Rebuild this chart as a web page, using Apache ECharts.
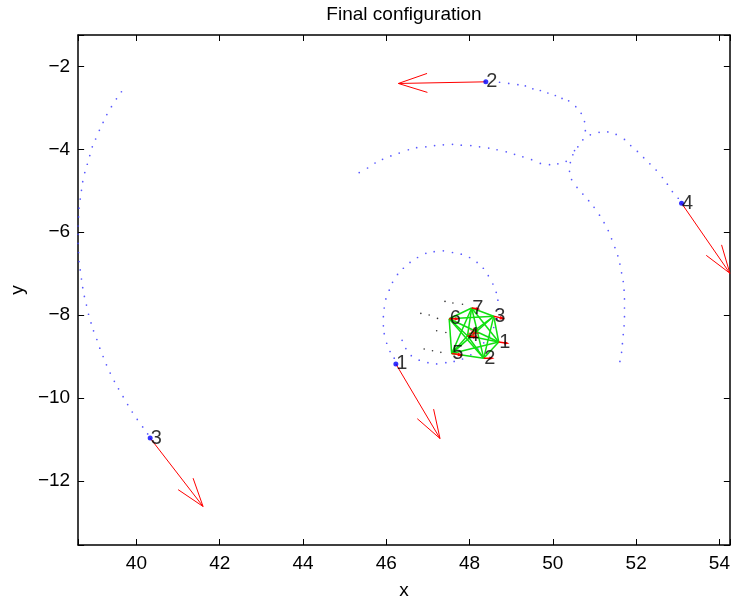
<!DOCTYPE html>
<html>
<head>
<meta charset="utf-8">
<title>Final configuration</title>
<script src="https://cdn.jsdelivr.net/npm/echarts@6/dist/echarts.min.js"></script>
<style>
  html, body { margin: 0; padding: 0; background: #ffffff; }
  #chart { width: 733px; height: 605px; }
</style>
</head>
<body>
<div id="chart"></div>
<script>
// ---- axis extents and ticks ----
const xRange = [38.6, 54.25];
const yRange = [-13.55, -1.24];
const xTickValues = [40, 42, 44, 46, 48, 50, 52, 54];
const yTickValues = [-12, -10, -8, -6, -4, -2];

// ---- trajectories of the four escaping particles (x, y samples) ----
const trail1 = [
  [46.38, -8.61], [46.47, -8.81], [46.60, -8.98], [46.79, -9.09], [47.00, -9.15],
  [47.21, -9.18], [47.43, -9.15], [47.63, -9.12], [47.83, -9.06], [48.03, -8.96],
  [48.20, -8.82], [48.34, -8.67], [48.48, -8.51], [48.58, -8.30], [48.66, -8.09],
  [48.69, -7.86], [48.68, -7.64], [48.64, -7.45], [48.56, -7.25], [48.45, -7.05],
  [48.33, -6.87], [48.18, -6.73], [48.00, -6.61], [47.80, -6.53], [47.59, -6.49],
  [47.37, -6.45], [47.15, -6.47], [46.95, -6.51], [46.75, -6.61], [46.57, -6.73],
  [46.41, -6.87], [46.27, -7.02], [46.15, -7.21], [46.07, -7.40], [45.99, -7.61],
  [45.95, -7.83], [45.93, -8.04], [45.93, -8.26], [45.95, -8.45], [46.01, -8.68],
  [46.09, -8.88], [46.19, -9.04]
];
const trail2 = [
  [45.35, -4.56], [45.55, -4.45], [45.73, -4.33], [45.91, -4.24], [46.11, -4.16],
  [46.31, -4.09], [46.53, -4.01], [46.73, -3.96], [46.95, -3.94], [47.16, -3.91],
  [47.37, -3.89], [47.59, -3.88], [47.80, -3.90], [48.03, -3.91], [48.24, -3.94],
  [48.46, -3.97], [48.66, -4.01], [48.88, -4.06], [49.08, -4.12], [49.28, -4.18],
  [49.49, -4.25], [49.70, -4.34], [49.92, -4.37], [50.12, -4.35], [50.32, -4.29],
  [50.48, -4.13], [50.60, -3.94], [50.72, -3.77], [50.78, -3.55], [50.76, -3.33],
  [50.68, -3.13], [50.55, -2.97], [50.38, -2.83], [50.22, -2.77], [50.06, -2.70],
  [49.88, -2.64], [49.70, -2.58], [49.52, -2.54], [49.34, -2.47], [49.16, -2.44],
  [48.94, -2.41], [48.72, -2.38]
];
const trail3 = [
  [39.64, -2.61], [39.52, -2.78], [39.40, -2.97], [39.29, -3.16], [39.20, -3.35],
  [39.11, -3.54], [39.02, -3.75], [38.94, -3.94], [38.88, -4.15], [38.82, -4.36],
  [38.76, -4.56], [38.71, -4.78], [38.68, -4.99], [38.65, -5.20], [38.62, -5.42],
  [38.61, -5.63], [38.60, -5.85], [38.60, -6.05], [38.60, -6.27], [38.61, -6.49],
  [38.62, -6.71], [38.65, -6.91], [38.68, -7.13], [38.71, -7.34], [38.75, -7.55],
  [38.80, -7.76], [38.85, -7.98], [38.91, -8.19], [38.97, -8.38], [39.05, -8.59],
  [39.12, -8.80], [39.20, -9.00], [39.28, -9.20], [39.37, -9.40], [39.47, -9.60],
  [39.57, -9.78], [39.68, -9.97], [39.79, -10.16], [39.90, -10.34], [40.02, -10.52],
  [40.15, -10.70], [40.27, -10.87]
];
const trail4 = [
  [51.61, -9.12], [51.65, -8.90], [51.67, -8.69], [51.69, -8.47], [51.71, -8.26],
  [51.72, -8.04], [51.72, -7.83], [51.72, -7.61], [51.71, -7.40], [51.69, -7.19],
  [51.65, -6.98], [51.61, -6.77], [51.56, -6.57], [51.49, -6.37], [51.41, -6.16],
  [51.33, -5.96], [51.23, -5.77], [51.12, -5.59], [50.99, -5.40], [50.86, -5.24],
  [50.72, -5.08], [50.58, -4.92], [50.45, -4.73], [50.40, -4.53], [50.42, -4.32],
  [50.52, -4.03], [50.90, -3.65], [51.11, -3.59], [51.32, -3.58], [51.52, -3.64],
  [51.72, -3.76], [51.87, -3.91], [52.03, -4.05], [52.18, -4.20], [52.33, -4.35],
  [52.48, -4.50], [52.63, -4.68], [52.75, -4.84], [52.87, -5.02], [53.01, -5.18]
];

// ---- escaping particles: position, velocity arrow tip, label ----
const outerLabels = ['1', '2', '3', '4'];
const outerX = [46.23, 48.39, 40.33, 53.09];
const outerY = [-9.18, -2.37, -10.97, -5.30];
const outerTipX = [47.29, 46.29, 41.60, 54.25];
const outerTipY = [-10.98, -2.41, -12.62, -6.99];

// ---- bound cluster: positions, velocities, labels ----
const clusterLabels = ['1', '2', '3', '4', '5', '6', '7'];
const clusterX = [48.70, 48.34, 48.58, 47.95, 47.57, 47.51, 48.05];
const clusterY = [-8.65, -9.04, -8.03, -8.50, -8.93, -8.09, -7.83];
const clusterU = [0.20, 0.20, 0.22, 0.20, 0.22, 0.20, 0.15];
const clusterV = [-0.03, 0.00, -0.05, -0.03, -0.03, 0.00, -0.02];

// ---- recent track of the cluster members ----
const clusterTrail = [
  [47.41, -7.67], [47.60, -7.71], [47.83, -7.74], [46.83, -7.96], [47.03, -8.00],
  [47.23, -8.08], [47.21, -8.38], [47.43, -8.42], [46.91, -8.82], [47.11, -8.86],
  [47.31, -8.90]
];

const FONT = 'Liberation Sans, Arial, Helvetica, sans-serif';
const FS = 19;
const LABEL_FS = 20;

// quiver-style arrow: shaft plus two head strokes
function quiver(x0, y0, x1, y1) {
  const u = x1 - x0, v = y1 - y0, a = 0.33, b = 0.33;
  return [
    { coords: [[x0, y0], [x1, y1]] },
    { coords: [
      [x1 - a * (u + b * v), y1 - a * (v - b * u)],
      [x1, y1],
      [x1 - a * (u - b * v), y1 - a * (v + b * u)]
    ] }
  ];
}

const outerArrows = [];
outerX.forEach((x, i) => outerArrows.push(...quiver(x, outerY[i], outerTipX[i], outerTipY[i])));

const clusterArrows = [];
clusterX.forEach((x, i) => clusterArrows.push(...quiver(x, clusterY[i], x + clusterU[i], clusterY[i] + clusterV[i])));

// every pair of cluster members is joined
const bonds = [];
for (let i = 0; i < clusterX.length; i++) {
  for (let j = i + 1; j < clusterX.length; j++) {
    bonds.push({ coords: [[clusterX[i], clusterY[i]], [clusterX[j], clusterY[j]]] });
  }
}

const meanX = clusterX.reduce((s, v) => s + v, 0) / clusterX.length;
const meanY = clusterY.reduce((s, v) => s + v, 0) / clusterY.length;

const fmtTick = (list) => (val) => {
  const r = Math.round(val * 1000) / 1000;
  return list.includes(r) ? String(r).replace('-', '\u2212') : '';
};

const axisLineStyle = { color: '#000', width: 1.5 };
const tickStyle = { inside: true, length: 6, lineStyle: { color: '#000', width: 1 } };

const chart = echarts.init(document.getElementById('chart'), null, { renderer: 'canvas' });
chart.setOption({
  animation: false,
  backgroundColor: '#ffffff',
  textStyle: { fontFamily: FONT },
  grid: { left: 78, right: 2, top: 35, bottom: 54, containLabel: false },
  xAxis: [
    {
      type: 'value', position: 'bottom', min: xRange[0], max: xRange[1],
      splitNumber: 8, minInterval: 2, maxInterval: 2,
      axisLine: { onZero: false, lineStyle: axisLineStyle },
      axisTick: tickStyle,
      axisLabel: { margin: 9, fontSize: FS, color: '#000', fontFamily: FONT, formatter: fmtTick(xTickValues), hideOverlap: false },
      splitLine: { show: false },
      name: 'x', nameLocation: 'middle', nameGap: 36,
      nameTextStyle: { fontSize: FS, color: '#000', fontFamily: FONT }
    },
    {
      type: 'value', position: 'top', min: xRange[0], max: xRange[1],
      splitNumber: 8, minInterval: 2, maxInterval: 2,
      axisLine: { onZero: false, lineStyle: axisLineStyle },
      axisTick: tickStyle,
      axisLabel: { show: false },
      splitLine: { show: false },
      name: 'Final configuration', nameLocation: 'middle', nameGap: 11,
      nameTextStyle: { fontSize: FS, color: '#000', fontFamily: FONT }
    }
  ],
  yAxis: [
    {
      type: 'value', position: 'left', min: yRange[0], max: yRange[1],
      splitNumber: 6, minInterval: 2, maxInterval: 2,
      axisLine: { onZero: false, lineStyle: axisLineStyle },
      axisTick: tickStyle,
      axisLabel: { margin: 8, fontSize: FS, color: '#000', fontFamily: FONT, formatter: fmtTick(yTickValues), hideOverlap: false },
      splitLine: { show: false },
      name: 'y', nameLocation: 'middle', nameGap: 48,
      nameTextStyle: { fontSize: FS, color: '#000', fontFamily: FONT }
    },
    {
      type: 'value', position: 'right', min: yRange[0], max: yRange[1],
      splitNumber: 6, minInterval: 2, maxInterval: 2,
      axisLine: { onZero: false, lineStyle: axisLineStyle },
      axisTick: tickStyle,
      axisLabel: { show: false },
      splitLine: { show: false }
    }
  ],
  series: [
    {
      name: 'trails', type: 'scatter', silent: true, symbol: 'circle', symbolSize: 1.7,
      itemStyle: { color: '#3b3bff', opacity: 0.85 },
      data: [].concat(trail1, trail2, trail3, trail4), z: 1
    },
    {
      name: 'cluster track', type: 'scatter', silent: true, symbol: 'circle', symbolSize: 1.6,
      itemStyle: { color: '#000' }, data: clusterTrail, z: 1
    },
    {
      name: 'bonds', type: 'lines', coordinateSystem: 'cartesian2d', silent: true,
      lineStyle: { color: '#10e010', width: 1.5, opacity: 1 }, data: bonds, z: 2
    },
    {
      name: 'cluster velocity', type: 'lines', coordinateSystem: 'cartesian2d', polyline: true, silent: true,
      lineStyle: { color: '#ff0000', width: 1.5, opacity: 1 }, data: clusterArrows, z: 3
    },
    {
      name: 'outer velocity', type: 'lines', coordinateSystem: 'cartesian2d', polyline: true, silent: true,
      lineStyle: { color: '#ff0000', width: 1, opacity: 1 }, data: outerArrows, z: 3
    },
    {
      name: 'centre', type: 'scatter', silent: true,
      symbol: 'path://M5 0L5 10M0 5L10 5M1.5 1.5L8.5 8.5M8.5 1.5L1.5 8.5', symbolSize: 11,
      itemStyle: { color: 'none', borderColor: '#ff0000', borderWidth: 1 },
      data: [[meanX, meanY]], z: 3
    },
    {
      name: 'particles', type: 'scatter', silent: true, symbolSize: 5,
      itemStyle: { color: '#0000ff' },
      data: outerX.map((x, i) => [x, outerY[i]]), z: 4
    },
    {
      name: 'labels', type: 'scatter', silent: true, symbolSize: 1,
      itemStyle: { color: 'rgba(0,0,0,0)' },
      label: {
        show: true, position: 'right', distance: 0, color: '#000',
        fontSize: LABEL_FS, fontFamily: FONT, formatter: (p) => p.data[2]
      },
      data: outerX.map((x, i) => [x, outerY[i], outerLabels[i]])
        .concat(clusterX.map((x, i) => [x, clusterY[i], clusterLabels[i]])),
      z: 5
    }
  ]
});
</script>
</body>
</html>
